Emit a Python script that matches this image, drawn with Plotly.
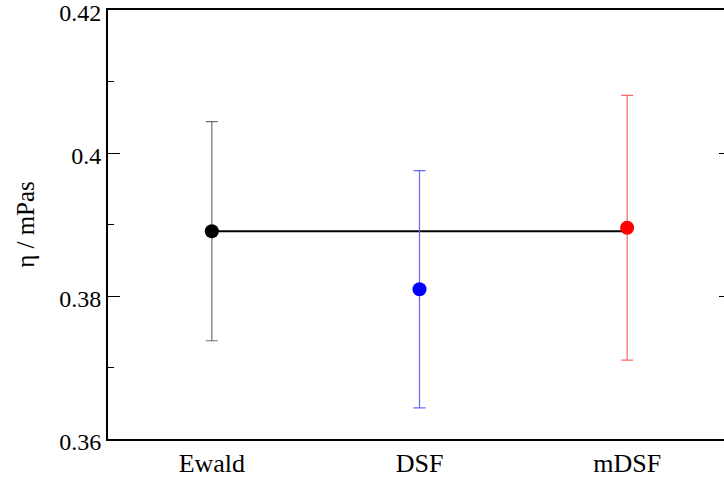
import plotly.graph_objects as go

methods = ["Ewald", "DSF", "mDSF"]
eta = [0.38906, 0.38094, 0.38955]
eta_err = [0.01532, 0.01659, 0.01851]
marker_colors = ["black", "blue", "red"]
bar_colors = ["#707070", "#6666ff", "#ff6666"]

y_range = [0.36, 0.42]
y_major = [0.36, 0.38, 0.40, 0.42]
y_major_text = ["0.36", "0.38", "0.4", "0.42"]

fig = go.Figure()

# reference line at Ewald value
fig.add_trace(go.Scatter(
    x=[methods[0], methods[-1]], y=[eta[0], eta[0]],
    mode="lines", line=dict(color="black", width=2),
    showlegend=False, hoverinfo="skip"))

for m, v, e, mc, bc in zip(methods, eta, eta_err, marker_colors, bar_colors):
    fig.add_trace(go.Scatter(
        x=[m], y=[v], mode="markers",
        marker=dict(color=mc, size=14),
        error_y=dict(type="data", array=[e], visible=True,
                     color=bc, thickness=1.2, width=6),
        showlegend=False))

font_family = "Liberation Serif, Times New Roman, serif"

fig.update_layout(
    width=731, height=481,
    margin=dict(l=108, r=0, t=10, b=42, autoexpand=False),
    paper_bgcolor="white", plot_bgcolor="white",
    font=dict(family=font_family, size=24, color="black"),
    showlegend=False,
)

fig.update_xaxes(
    type="category", categoryorder="array", categoryarray=methods,
    range=[-0.5, 2.5], automargin=False,
    showline=True, linecolor="black", linewidth=2, mirror=True,
    ticks="", showgrid=False, zeroline=False,
    tickfont=dict(family=font_family, size=26),
)

fig.update_yaxes(
    range=y_range, automargin=False,
    tickvals=y_major, ticktext=y_major_text,
    ticklabeloverflow="allow", ticklabelshift=3,
    showline=True, linecolor="black", linewidth=2, mirror="ticks",
    ticks="inside", ticklen=12, tickwidth=1, tickcolor="black",
    minor=dict(ticks="inside", ticklen=6, dtick=0.01, tickcolor="black", tickwidth=1, showgrid=False),
    showgrid=False, zeroline=False,
    tickfont=dict(family=font_family, size=24),
    title=dict(text="η / mPas", font=dict(family=font_family, size=25), standoff=17),
)

fig.write_html("out.html", post_script="document.body.style.overflow='hidden';document.documentElement.style.overflow='hidden';document.body.style.margin='0';")
